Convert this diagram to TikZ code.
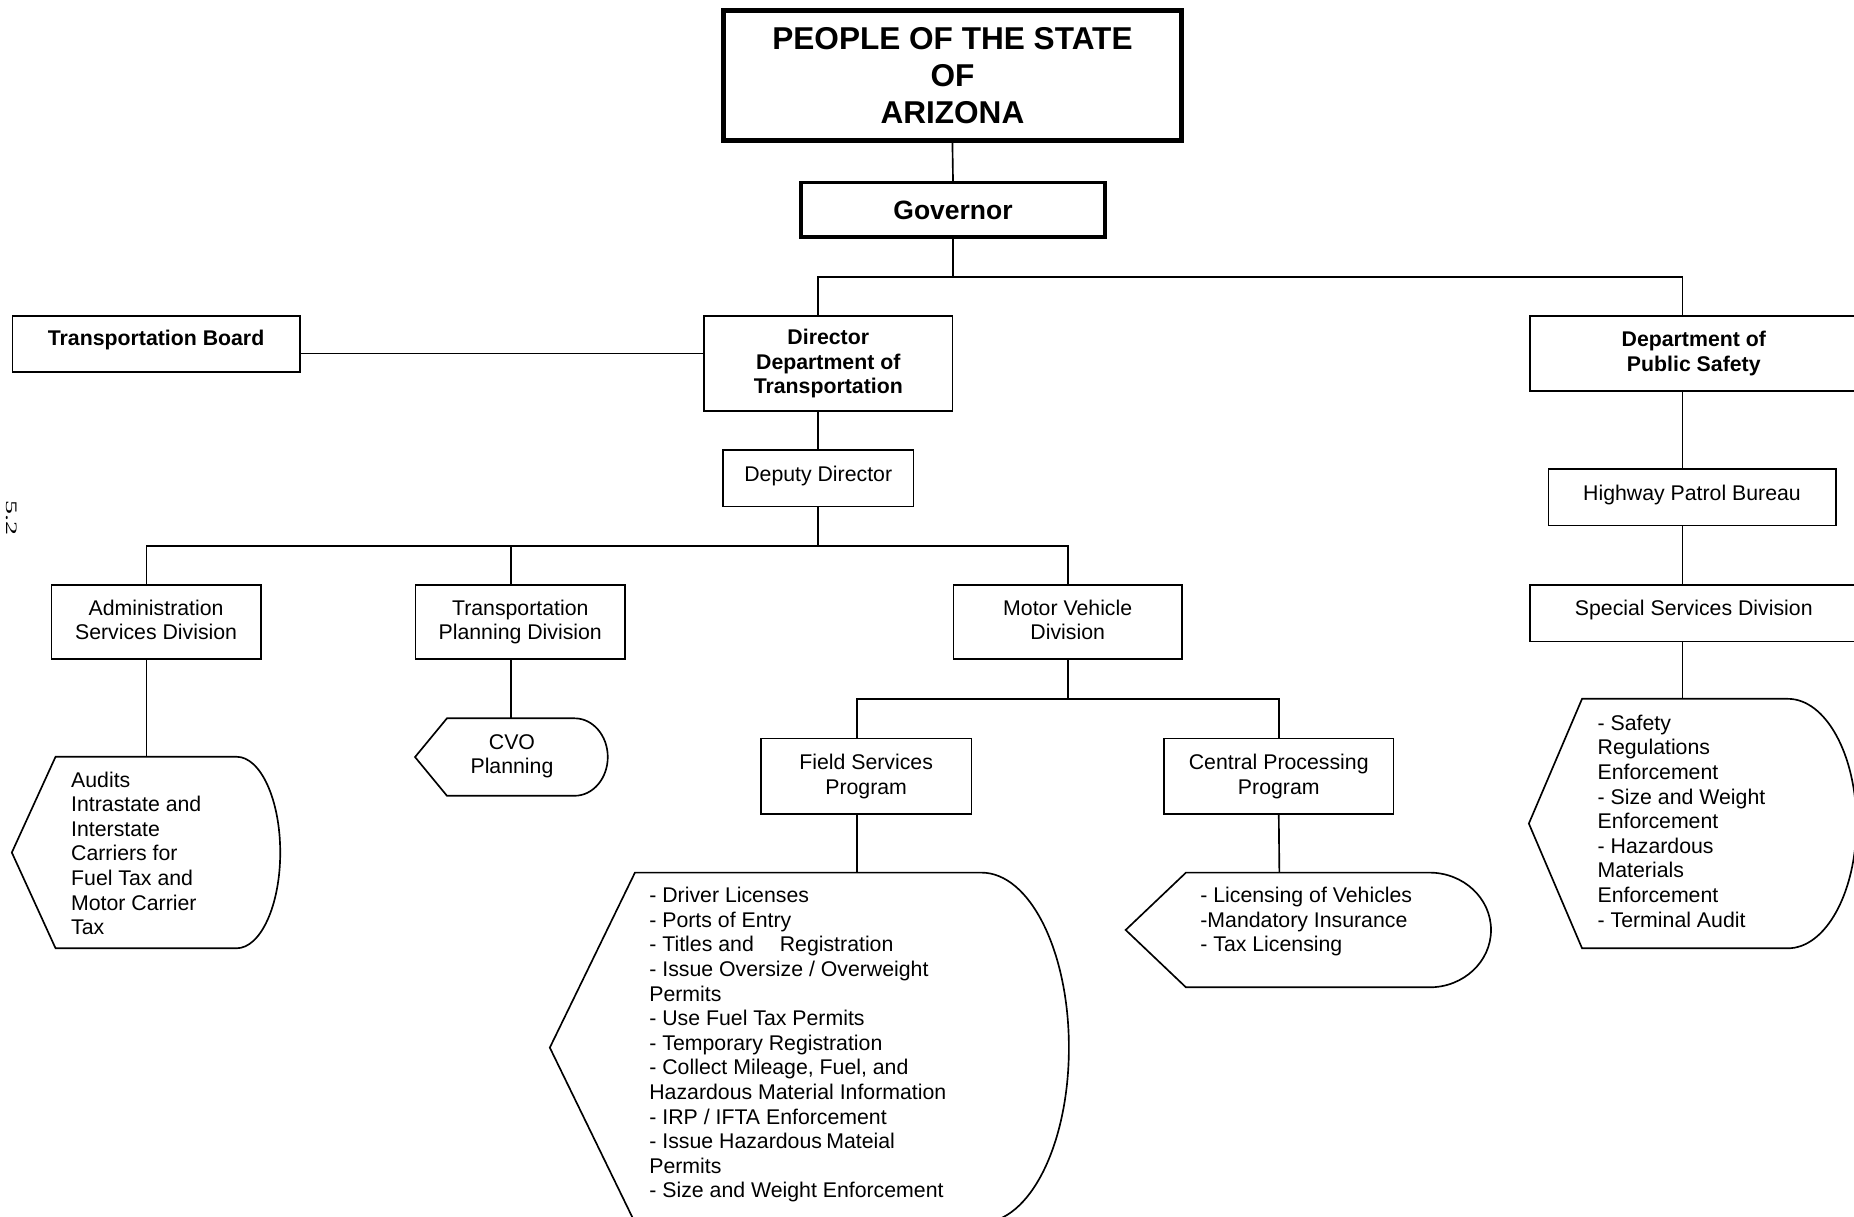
\documentclass[tikz,border=0pt]{standalone}
\usepackage{fontspec}
\setmainfont{Liberation Sans}
\newfontfamily\serifnum{Liberation Serif}
\usetikzlibrary{calc}
\tikzset{
  orgbox/.style={draw, line width=1.4pt, inner sep=0pt, align=center, font=\fontsize{18}{20.8}\selectfont},
  boldbox/.style={orgbox, font=\fontsize{18}{20.8}\selectfont\bfseries},
  wire/.style={line width=1.4pt},
  dispshape/.style={draw, line width=1.4pt, line join=miter},
  disptext/.style={inner sep=0pt, align=left, anchor=base west, font=\fontsize{18}{20.8}\selectfont},
}
\begin{document}
\begin{tikzpicture}[x=1pt,y=-1pt]
\useasboundingbox (0,0) rectangle (1568,1029);

% ---- boxes ----
\node[boldbox, line width=4pt, minimum width=387pt, minimum height=110pt, font=\fontsize{26.7}{31}\selectfont\bfseries] (people) at (805.5,64) {PEOPLE OF THE STATE\\OF\\ARIZONA};
\node[boldbox, line width=3pt, minimum width=257pt, minimum height=46pt, font=\fontsize{22.4}{26}\selectfont\bfseries] (gov) at (806,177.5) {Governor};
\node[boldbox, minimum width=243pt, minimum height=47pt, text depth=10pt] (tb) at (132,291) {Transportation Board};
\node[boldbox, minimum width=210pt, minimum height=80pt] (dir) at (700.5,307.5) {Director\\Department of\\Transportation};
\node[boldbox, minimum width=277pt, minimum height=63pt] (dps) at (1432.5,299) {Department of\\Public Safety};
\node[orgbox, minimum width=161pt, minimum height=48pt, text depth=8pt] (dep) at (692,404.5) {Deputy Director};
\node[orgbox, minimum width=243pt, minimum height=48pt, text depth=8pt] (hpb) at (1431,420.5) {Highway Patrol Bureau};
\node[orgbox, minimum width=177pt, minimum height=63pt, text depth=4pt] (adm) at (132,526) {Administration\\Services Division};
\node[orgbox, minimum width=177pt, minimum height=63pt] (tpd) at (440,526) {Transportation\\Planning Division};
\node[orgbox, minimum width=193pt, minimum height=63pt, text depth=4pt] (mvd) at (903,526) {Motor Vehicle\\Division};
\node[orgbox, minimum width=277pt, minimum height=48pt, text depth=9pt] (ssd) at (1432.5,518.5) {Special Services Division};
\node[orgbox, minimum width=178pt, minimum height=64pt] (fsp) at (732.5,656.5) {Field Services\\Program};
\node[orgbox, minimum width=194pt, minimum height=64pt] (cpp) at (1081.5,656.5) {Central Processing\\Program};

% ---- display shapes ----
\draw[dispshape] (10,721) -- (47,640) -- (200,640) .. controls (220.4,640) and (237,676.3) .. (237,721)
  .. controls (237,765.7) and (220.4,802) .. (200,802) -- (47,802) -- cycle;
\draw[dispshape] (351,640.25) -- (378,607.5) -- (486,607.5) .. controls (501.5,607.5) and (514,622.2) .. (514,640.25)
  .. controls (514,658.3) and (501.5,673) .. (486,673) -- (378,673) -- cycle;
\draw[dispshape] (465,886) -- (537,738) -- (830,738) .. controls (870.9,738) and (904,804.3) .. (904,886)
  .. controls (904,967.7) and (870.9,1034) .. (830,1034) -- (537,1034) -- cycle;
\draw[dispshape] (952,786.5) -- (1003,738) -- (1209,738) .. controls (1237.7,738) and (1261,759.7) .. (1261,786.5)
  .. controls (1261,813.3) and (1237.7,835) .. (1209,835) -- (1003,835) -- cycle;
\draw[dispshape] (1293,696.5) -- (1338,591) -- (1512,591) .. controls (1544,591) and (1570,638.2) .. (1570,696.5)
  .. controls (1570,754.8) and (1544,802) .. (1512,802) -- (1338,802) -- cycle;

\coordinate (admd) at (124,640);
\coordinate (cvod) at (432,607.5);
\coordinate (fsd) at (725,738);
\coordinate (cpd) at (1082,738);
\coordinate (dpsd) at (1423,591);

% anchor=base is the baseline of the last line
\node[disptext] (admt) at (60,790.5) {Audits\\Intrastate and\\Interstate\\Carriers for\\Fuel Tax and\\Motor Carrier\\Tax};
\node[disptext, align=center, anchor=base] (cvot) at (433,654.5) {CVO\\Planning};
\node[disptext] (fst) at (549,1013) {- Driver Licenses\\- Ports of Entry\\- Titles and\hspace{22pt}Registration\\- Issue Oversize / Overweight\\Permits\\- Use Fuel Tax Permits\\- Temporary Registration\\- Collect Mileage, Fuel, and\\Hazardous Material Information\\- IRP / IFTA Enforcement\\- Issue Hazardous\hspace{3.6pt}Mateial\\Permits\\- Size and Weight Enforcement};
\node[disptext] (cpt) at (1015,805) {- Licensing of Vehicles\\-Mandatory Insurance\\- Tax Licensing};
\node[disptext] (dpst) at (1351,784) {- Safety\\Regulations\\Enforcement\\- Size and Weight\\Enforcement\\- Hazardous\\Materials\\Enforcement\\- Terminal Audit};

\node[rotate=-90, inner sep=0pt, font=\serifnum\fontsize{13.5}{16}\selectfont] (pgnum) at (10,438) {\scalebox{1.75}[1]{5.2}};

% ---- connectors ----
\coordinate (bus1) at (806,234);
\coordinate (bus2) at (692,462);
\coordinate (bus3) at (903,591);
\draw[wire] (people.south) -- (gov.north);
\draw[wire] (gov.south) -- (bus1);
\draw[wire] ([xshift=-8.5pt]dir.north) |- (bus1) -| ([xshift=-9.5pt]dps.north);
\draw[wire] ([yshift=-8pt]tb.east) -- ([yshift=-8pt]tb.east -| dir.west);
\draw[wire] (dep.north) -- (dep.north |- dir.south);
\draw[wire] (dep.south) -- (bus2);
\draw[wire] ([xshift=-8pt]adm.north) |- (bus2) -| (mvd.north);
\draw[wire] ([xshift=-8pt]tpd.north) -- ([xshift=-8pt]tpd.north |- bus2);
\draw[wire] (mvd.south) -- (bus3);
\draw[wire] ([xshift=-7.5pt]fsp.north) |- (bus3) -| (cpp.north);
\draw[wire] ([xshift=-8pt]adm.south) -- (admd);
\draw[wire] ([xshift=-8pt]tpd.south) -- (cvod);
\draw[wire] ([xshift=-7.5pt]fsp.south) -- (fsd);
\draw[wire] (cpp.south) -- (cpd);
\draw[wire] ([xshift=-9.5pt]dps.south) -- ([xshift=-9.5pt]dps.south |- hpb.north);
\draw[wire] ([xshift=-8pt]hpb.south) -- ([xshift=-8pt]hpb.south |- ssd.north);
\draw[wire] ([xshift=-9.5pt]ssd.south) -- (dpsd);
\end{tikzpicture}
\end{document}
